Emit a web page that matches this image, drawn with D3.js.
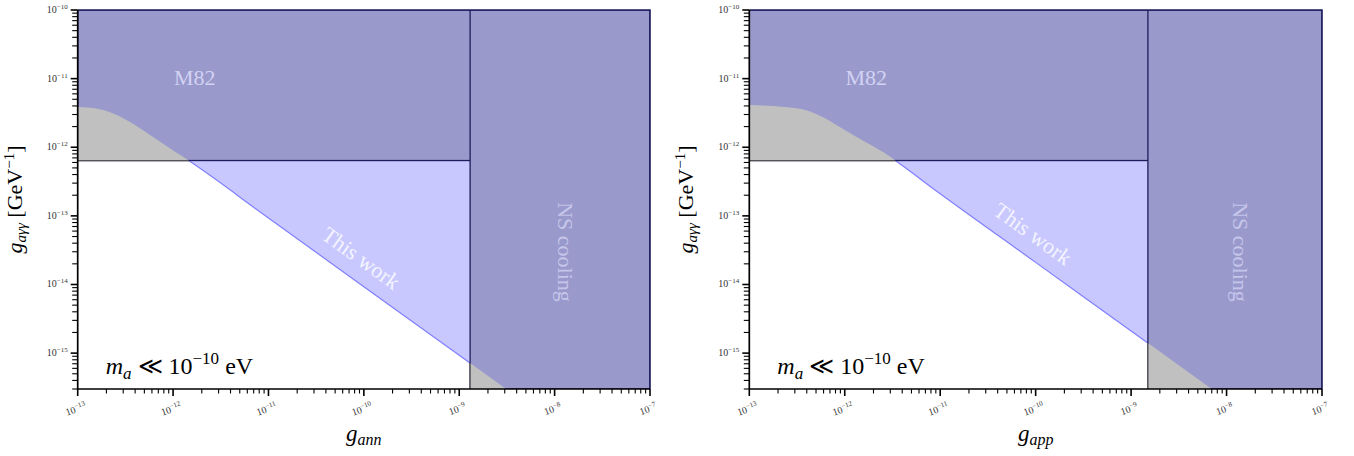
<!DOCTYPE html>
<html><head><meta charset="utf-8">
<script src="https://cdn.jsdelivr.net/npm/d3@7"></script>
<style>
body{margin:0;background:#fff}
svg{display:block}
text{font-family:"Liberation Serif","DejaVu Serif",serif}
</style>
</head><body>
<svg id="c" width="1354" height="456"></svg>
<script>
// ---- data ----
const xDomain = [1e-13, 1e-7];
const yDomain = [3e-16, 1e-10];
const xMajorTicks = [1e-13, 1e-12, 1e-11, 1e-10, 1e-9, 1e-8, 1e-7];
const xTickExponents = ["−13", "−12", "−11", "−10", "−9", "−8", "−7"];
const yMajorTicks = [1e-15, 1e-14, 1e-13, 1e-12, 1e-11, 1e-10];
const yTickExponents = ["−15", "−14", "−13", "−12", "−11", "−10"];
const m82Bound = 6.4e-13;
const nsBoundAnn = 1.3e-9;
const nsBoundApp = 1.5e-9;
const annCurveX = [1e-13, 1.52e-13, 2.46e-13, 3.99e-13, 6.46e-13, 1.05e-12, 1.43e-12, 1e-11, 1e-10, 1e-9, 1e-8, 1e-7];
const annCurveY = [3.86e-12, 3.69e-12, 3.02e-12, 2.11e-12, 1.35e-12, 8.6e-13, 6.5e-13, 9.3e-14, 9.3e-15, 9.3e-16, 9.3e-17, 9.3e-18];
const appCurveX = [1e-13, 2.33e-13, 3.84e-13, 6.21e-13, 1.0e-12, 1.63e-12, 2.64e-12, 3.22e-12, 1e-11, 1e-10, 1e-9, 1e-8, 1e-7];
const appCurveY = [4.12e-12, 3.85e-12, 3.48e-12, 2.64e-12, 1.78e-12, 1.20e-12, 8.15e-13, 6.73e-13, 2.1e-13, 2.1e-14, 2.1e-15, 2.1e-16, 2.1e-17];
const xLabelSubs = ["ann", "app"];

// ---- styles ----
const C = {
  dark: "#9999cc", darkEdge: "#1d1d5c", light: "#c8c8ff", line: "#7f7fff",
  grey: "#c0c0c0", greyEdge: "#555555", m82Text: "#d2d2f2", nsText: "#c6c6ea",
  workText: "#f4f4ff", tick: "#333"
};

const svg = d3.select("#c");
const L = Math.log10;

function interpY(xs, ys, x) {
  for (let i = 0; i < xs.length - 1; i++) {
    if (x >= xs[i] && x <= xs[i + 1]) {
      const t = (L(x) - L(xs[i])) / (L(xs[i + 1]) - L(xs[i]));
      return Math.pow(10, L(ys[i]) + t * (L(ys[i + 1]) - L(ys[i])));
    }
  }
  return ys[ys.length - 1];
}
function crossX(xs, ys, level) {
  for (let i = 0; i < xs.length - 1; i++) {
    if (ys[i] >= level && ys[i + 1] < level) {
      const t = (L(level) - L(ys[i])) / (L(ys[i + 1]) - L(ys[i]));
      return Math.pow(10, L(xs[i]) + t * (L(xs[i + 1]) - L(xs[i])));
    }
  }
  return xs[0];
}

function drawPanel(idx, left, right, top, bottom, cx, cy, ns) {
  const x = d3.scaleLog().domain(xDomain).range([left, right]);
  const y = d3.scaleLog().domain(yDomain).range([bottom, top]);
  const pts = cx.map((v, i) => [v, cy[i]]);
  const g = svg.append("g");
  const clipId = "clip" + idx;
  g.append("clipPath").attr("id", clipId).append("rect")
    .attr("x", left).attr("y", top).attr("width", right - left).attr("height", bottom - top);
  const pg = g.append("g").attr("clip-path", `url(#${clipId})`);

  // light blue excluded region (this work)
  pg.append("path").datum(pts)
    .attr("d", d3.area().curve(d3.curveMonotoneX).x(d => x(d[0])).y0(d => y(d[1])).y1(top))
    .attr("fill", C.light);
  pg.append("path").datum(pts)
    .attr("d", d3.line().curve(d3.curveMonotoneX).x(d => x(d[0])).y(d => y(d[1])))
    .attr("fill", "none").attr("stroke", C.line).attr("stroke-width", 1.2);

  // M82 region
  pg.append("rect").attr("x", left).attr("y", top).attr("width", right - left)
    .attr("height", y(m82Bound) - top).attr("fill", C.dark)
    .attr("stroke", C.darkEdge).attr("stroke-width", 1.3);
  // NS cooling region
  pg.append("rect").attr("x", x(ns)).attr("y", top).attr("width", right - x(ns))
    .attr("height", bottom - top).attr("fill", C.dark)
    .attr("stroke", C.darkEdge).attr("stroke-width", 1.3);
  // frame edges top / right in navy
  g.append("path").attr("d", `M${left},${top}H${right}V${bottom}`)
    .attr("fill", "none").attr("stroke", C.darkEdge).attr("stroke-width", 1.6);

  // grey top-left
  const xc = crossX(cx, cy, m82Bound);
  const tl = pts.filter(d => d[0] < xc).concat([[xc, m82Bound]]);
  pg.append("path").datum(tl)
    .attr("d", d3.area().curve(d3.curveMonotoneX).x(d => x(d[0])).y0(y(m82Bound)).y1(d => y(d[1])))
    .attr("fill", C.grey);
  pg.append("line").attr("x1", left).attr("x2", x(xc)).attr("y1", y(m82Bound)).attr("y2", y(m82Bound))
    .attr("stroke", C.greyEdge).attr("stroke-width", 1.3);
  // grey bottom-right
  const yn = interpY(cx, cy, ns);
  const br = [[ns, yn]].concat(pts.filter(d => d[0] > ns));
  pg.append("path").datum(br)
    .attr("d", d3.area().curve(d3.curveMonotoneX).x(d => x(d[0])).y0(bottom).y1(d => y(d[1])))
    .attr("fill", C.grey);
  pg.append("line").attr("x1", x(ns)).attr("x2", x(ns)).attr("y1", y(yn)).attr("y2", bottom)
    .attr("stroke", C.greyEdge).attr("stroke-width", 1.3);

  // ---- axes (ticks from the scales) ----
  const isMajor = v => Math.abs(L(v) - Math.round(L(v))) < 1e-6;
  const xAll = x.ticks();
  const yAll = y.ticks();
  const ax = g.append("g");
  ax.selectAll("line.xt").data(xAll).join("line").attr("class", "xt")
    .attr("x1", d => x(d)).attr("x2", d => x(d))
    .attr("y1", bottom).attr("y2", d => bottom + (isMajor(d) ? 7 : 4.5))
    .attr("stroke", "#000").attr("stroke-width", d => isMajor(d) ? 1.6 : 1.1);
  ax.selectAll("line.yt").data(yAll).join("line").attr("class", "yt")
    .attr("y1", d => y(d)).attr("y2", d => y(d))
    .attr("x1", left).attr("x2", d => left - (isMajor(d) ? 7 : 5.5))
    .attr("stroke", "#000").attr("stroke-width", d => isMajor(d) ? 1.6 : 1.1);
  ax.append("path").attr("d", `M${left},${top}V${bottom}H${right}`)
    .attr("fill", "none").attr("stroke", "#000").attr("stroke-width", 1.7);

  // tick labels
  xMajorTicks.forEach((v, i) => {
    const t = g.append("text")
      .attr("transform", `translate(${x(v) - 2},${bottom + 20}) rotate(-20)`)
      .attr("text-anchor", "middle").attr("dy", "0.35em")
      .attr("font-size", 10).attr("fill", C.tick);
    t.append("tspan").text("10");
    t.append("tspan").attr("font-size", 7).attr("dy", "-0.55em").text(xTickExponents[i]);
  });
  yMajorTicks.forEach((v, i) => {
    const t = g.append("text")
      .attr("x", left - 10).attr("y", y(v) + 3)
      .attr("text-anchor", "end").attr("font-size", 10).attr("fill", C.tick);
    t.append("tspan").text("10");
    t.append("tspan").attr("font-size", 7).attr("dy", "-4").text(yTickExponents[i]);
  });

  // axis titles
  const xt = g.append("text").attr("x", (left + right) / 2).attr("y", 441)
    .attr("text-anchor", "middle").attr("font-style", "italic").attr("font-size", 23);
  xt.append("tspan").text("g");
  xt.append("tspan").attr("font-size", 16).attr("dy", 4).text(xLabelSubs[idx]);
  const yt = g.append("text")
    .attr("transform", `translate(${left - 56},${(top + bottom) / 2}) rotate(-90)`)
    .attr("text-anchor", "middle").attr("font-size", 22);
  yt.append("tspan").attr("font-style", "italic").text("g");
  yt.append("tspan").attr("font-style", "italic").attr("font-size", 15).attr("dy", 4).text("aγγ");
  yt.append("tspan").attr("dy", -4).text(" [GeV");
  yt.append("tspan").attr("font-size", 15).attr("dy", -8).text("−1");
  yt.append("tspan").attr("dy", 8).text("]");

  // annotations
  g.append("text").attr("x", left + 117).attr("y", 85).attr("text-anchor", "middle")
    .attr("font-size", 22).attr("fill", C.m82Text).text("M82");
  const nsx = (x(ns) + right) / 2;
  g.append("text").attr("transform", `translate(${nsx - 2},${252}) rotate(90)`)
    .attr("text-anchor", "middle").attr("font-size", 22).attr("fill", C.nsText).text("NS cooling");
  // "This work" placed just above the line
  const axv = 6.9e-11;
  const lx = x(axv), ly = y(interpY(cx, cy, axv));
  const ang = Math.atan2(y(interpY(cx, cy, 1e-9)) - y(interpY(cx, cy, 1e-10)), x(1e-9) - x(1e-10)) * 180 / Math.PI;
  g.append("text").attr("transform", `translate(${lx},${ly}) rotate(${ang}) translate(0,-14)`)
    .attr("text-anchor", "middle").attr("font-size", 22).attr("fill", C.workText).text("This work");
  const ma = g.append("text").attr("x", left + 28).attr("y", 374).attr("font-size", 24);
  ma.append("tspan").attr("font-style", "italic").text("m");
  ma.append("tspan").attr("font-style", "italic").attr("font-size", 17).attr("dy", 5).text("a");
  ma.append("tspan").attr("dy", -5).text(" ≪ 10");
  ma.append("tspan").attr("font-size", 17).attr("dy", -10).text("−10");
  ma.append("tspan").attr("dy", 10).text(" eV");
}

drawPanel(0, 77.7, 650, 10, 389, annCurveX, annCurveY, nsBoundAnn);
drawPanel(1, 749.3, 1322, 10, 389, appCurveX, appCurveY, nsBoundApp);
</script>
</body></html>
